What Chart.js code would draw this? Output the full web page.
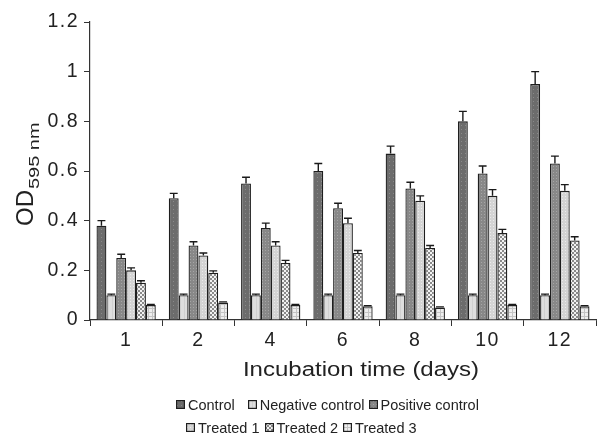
<!DOCTYPE html>
<html>
<head>
<meta charset="utf-8">
<script src="https://cdn.jsdelivr.net/npm/chart.js@4/dist/chart.umd.min.js"></script>
<style>
  html,body{margin:0;padding:0;background:#fff;overflow:hidden;}
  #wrap{position:relative;width:597px;height:436px;overflow:hidden;}
  #legend{position:absolute;left:0;top:393px;width:597px;font-family:"Liberation Sans",Arial,sans-serif;font-size:14.5px;color:#222;line-height:16px;}
  .row{display:flex;justify-content:flex-start;align-items:center;height:23px;}
  .item{display:flex;align-items:center;white-space:nowrap;}
  .item canvas{margin-right:3px;}
</style>
</head>
<body>
<div id="wrap">
  <canvas id="c" width="597" height="436"></canvas>
  <div id="legend"></div>
</div>
<script>
// ---- data ----
const categories = ["1", "2", "4", "6", "8", "10", "12"];
const seriesNames = ["Control", "Negative control", "Positive control", "Treated 1", "Treated 2", "Treated 3"];
const control        = [0.38, 0.49, 0.55, 0.60, 0.67, 0.80, 0.95];
const negativeCtrl   = [0.10, 0.10, 0.10, 0.10, 0.10, 0.10, 0.10];
const positiveCtrl   = [0.25, 0.30, 0.37, 0.45, 0.53, 0.59, 0.63];
const treated1       = [0.20, 0.26, 0.30, 0.39, 0.48, 0.50, 0.52];
const treated2       = [0.15, 0.19, 0.23, 0.27, 0.29, 0.35, 0.32];
const treated3       = [0.06, 0.07, 0.06, 0.055, 0.05, 0.06, 0.055];
const controlErr     = [0.02, 0.02, 0.025, 0.03, 0.03, 0.04, 0.05];
const negativeErr    = [0.004, 0.004, 0.004, 0.004, 0.004, 0.004, 0.004];
const positiveErr    = [0.015, 0.015, 0.02, 0.02, 0.025, 0.03, 0.03];
const treated1Err    = [0.01, 0.01, 0.015, 0.02, 0.02, 0.025, 0.025];
const treated2Err    = [0.008, 0.008, 0.01, 0.01, 0.01, 0.015, 0.015];
const treated3Err    = [0.003, 0.003, 0.003, 0.003, 0.003, 0.003, 0.003];
const yTicks = [0, 0.2, 0.4, 0.6, 0.8, 1, 1.2];
const xTitleText = "Incubation time (days)";

const values = [control, negativeCtrl, positiveCtrl, treated1, treated2, treated3];
const errors = [controlErr, negativeErr, positiveErr, treated1Err, treated2Err, treated3Err];

// ---- patterns ----
function makePattern(kind){
  const t = document.createElement('canvas');
  const g = t.getContext('2d');
  if(kind===0){ t.width=4;t.height=4; g.fillStyle='#6c6c6c';g.fillRect(0,0,4,4); g.fillStyle='#8a8a8a';g.fillRect(1,1,1,1);}
  else if(kind===1){ t.width=4;t.height=4; g.fillStyle='#dedede';g.fillRect(0,0,4,4); g.fillStyle='#d0d0d0';g.fillRect(0,0,1,4);}
  else if(kind===2){ t.width=3;t.height=3; g.fillStyle='#888888';g.fillRect(0,0,3,3); g.fillStyle='#a6a6a6';g.fillRect(1,1,1,1);}
  else if(kind===3){ t.width=3;t.height=3; g.fillStyle='#d4d4d4';g.fillRect(0,0,3,3); g.fillStyle='#ebebeb';g.fillRect(1,1,1,1);}
  else if(kind===4){ t.width=4;t.height=4; g.fillStyle='#f2f2f2';g.fillRect(0,0,4,4); g.fillStyle='#8a8a8a';g.fillRect(0,0,2,2);g.fillRect(2,2,2,2);}
  else { t.width=4;t.height=4; g.fillStyle='#eeeeee';g.fillRect(0,0,4,4); g.fillStyle='#c4c4c4';g.fillRect(0,0,4,1);g.fillRect(0,0,1,4);}
  return g.createPattern(t,'repeat');
}
const ctx = document.getElementById('c').getContext('2d');
const patterns = seriesNames.map((_,i)=>makePattern(i));

const datasets = seriesNames.map((name,i)=>({
  label: name,
  data: values[i],
  backgroundColor: patterns[i],
  borderColor: '#1e1e1e',
  borderWidth: 1.3,
  borderSkipped: 'bottom',
  categoryPercentage: 0.82,
  barPercentage: 1.0
}));

const errorBars = {
  id:'errorBars',
  afterDatasetsDraw(chart){
    const c = chart.ctx, ys = chart.scales.y;
    c.save();
    c.strokeStyle='#1a1a1a'; c.lineWidth=1.4;
    chart.data.datasets.forEach((ds,i)=>{
      const meta = chart.getDatasetMeta(i);
      meta.data.forEach((bar,j)=>{
        const v = ds.data[j], e = errors[i][j];
        const top = ys.getPixelForValue(v+e);
        const half = Math.min(4, bar.width*0.4);
        c.beginPath();
        c.moveTo(bar.x, bar.y); c.lineTo(bar.x, top);
        c.moveTo(bar.x-half, top); c.lineTo(bar.x+half, top);
        c.stroke();
      });
    });
    c.restore();
  }
};

// widen tick lettering slightly, like the reference
const spacing = {
  id:'spacing',
  beforeUpdate(chart){ chart.ctx.letterSpacing = '1.5px'; },
  beforeDraw(chart){ chart.ctx.letterSpacing = '1.5px'; }
};

const titles = {
  id:'titles',
  afterDraw(chart){
    const c = chart.ctx;
    // y title: OD with subscript
    c.save();
    c.letterSpacing = '0px';
    c.translate(33, 226);
    c.rotate(-Math.PI/2);
    c.fillStyle='#222';
    c.textBaseline='alphabetic';
    c.textAlign='left';
    c.font='24px "Liberation Sans", Arial, sans-serif';
    const w1 = c.measureText('OD').width;
    c.fillText('OD', 0, 0);
    c.font='15px "Liberation Sans", Arial, sans-serif';
    c.translate(w1 + 1, 6);
    c.scale(1.33, 1);
    c.fillText('595 nm', 0, 0);
    c.restore();
    // x title, horizontally widened lettering
    c.save();
    c.letterSpacing = '0px';
    const xs = chart.scales.x;
    c.fillStyle='#222';
    c.font='20px "Liberation Sans", Arial, sans-serif';
    c.textAlign='center';
    c.textBaseline='middle';
    c.translate((xs.left + xs.right)/2 + 18, xs.top + 50);
    c.scale(1.2, 1);
    c.fillText(xTitleText, 0, 0);
    c.restore();
  }
};

const tickFont = {family:'"Liberation Sans", Arial, sans-serif', size:19.5};

new Chart(ctx, {
  type:'bar',
  data:{labels:categories, datasets},
  options:{
    responsive:false,
    animation:false,
    layout:{padding:{left:0,right:1,top:22,bottom:51}},
    plugins:{legend:{display:false}, tooltip:{enabled:false}},
    scales:{
      x:{
        grid:{display:true, drawOnChartArea:false, drawTicks:true, tickLength:6, color:'#333', offset:true},
        border:{display:true,color:'#333',width:1.2},
        ticks:{font:tickFont, color:'#222', padding:3},
        title:{display:false, text:xTitleText},
        afterFit(s){ s.height = 65; }
      },
      y:{
        min:0, max:1.2,
        afterBuildTicks(s){ s.ticks = yTicks.map(v=>({value:v})); },
        grid:{display:true, drawOnChartArea:false, drawTicks:true, tickLength:6, color:'#333'},
        border:{display:true,color:'#333',width:1.2},
        ticks:{font:tickFont, color:'#222', padding:5, callback:(v)=>String(v)},
        afterFit(s){ s.width = 90; }
      }
    }
  },
  plugins:[spacing, errorBars, titles]
});

// ---- HTML legend ----
const legend = document.getElementById('legend');
const rows = [
  {left:176, items:[0,1,2], gaps:[13,4,0]},
  {left:186, items:[3,4,5], gaps:[5,5,0]}
];
rows.forEach(r=>{
  const row = document.createElement('div'); row.className='row';
  row.style.paddingLeft = r.left + 'px';
  r.items.forEach((i,k)=>{
    const it = document.createElement('span'); it.className='item';
    it.style.marginRight = r.gaps[k] + 'px';
    const sw = document.createElement('canvas'); sw.width=9; sw.height=9;
    const g = sw.getContext('2d');
    g.fillStyle = patterns[i]; g.fillRect(0,0,9,9);
    g.strokeStyle='#1e1e1e'; g.lineWidth=1.2; g.strokeRect(0.6,0.6,7.8,7.8);
    it.appendChild(sw);
    it.appendChild(document.createTextNode(seriesNames[i]));
    row.appendChild(it);
  });
  legend.appendChild(row);
});
</script>
</body>
</html>
